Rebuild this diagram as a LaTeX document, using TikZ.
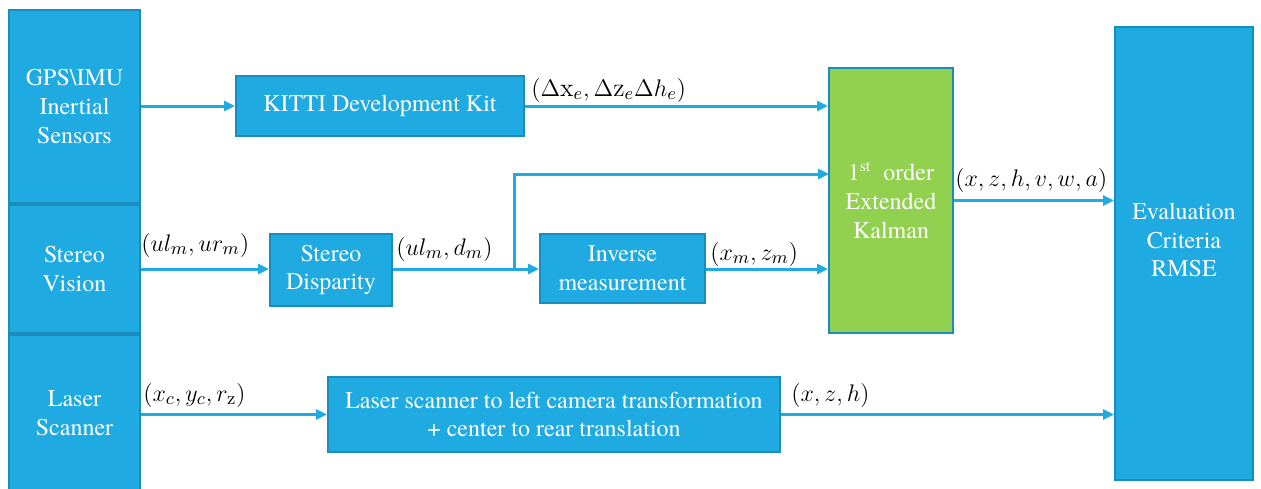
\documentclass[tikz,border=0pt]{standalone}
\usepackage{fontspec}
\IfFontExistsTF{texgyretermes-regular.otf}
  {\newfontfamily\tnrfont{texgyretermes-regular.otf}}
  {\newfontfamily\tnrfont{Liberation Serif}}
\usetikzlibrary{arrows.meta}
\definecolor{boxblue}{RGB}{31,171,226}
\definecolor{edgeblue}{RGB}{26,140,190}
\definecolor{kalgreen}{RGB}{146,208,80}
\tikzset{
  blk/.style={draw=edgeblue, line width=1pt, fill=boxblue, text=white, align=center,
    inner sep=1pt, font=\tnrfont\fontsize{12}{14.4}\selectfont},
  arr/.style={draw=boxblue, line width=1.5pt, -{Triangle[length=5.5pt,width=5pt]}},
  lbl/.style={anchor=west, inner sep=0.5pt, font=\fontsize{13}{15}\selectfont},
}
\begin{document}
\begin{tikzpicture}[x=0.5pt,y=-0.5pt]
        \useasboundingbox (0,0) rectangle (1261,488);

        % sensor column
        \node [blk, minimum width=65.5pt, minimum height=96.5pt] (gps) at (74.5,106.5) {GPS\textbackslash IMU\\Inertial\\Sensors};
        \node [blk, minimum width=65.5pt, minimum height=64pt] (stereo) at (74.5,269) {Stereo\\Vision};
        \node [blk, minimum width=65.5pt, minimum height=78pt] (laser) at (74.5,413) {Laser\\Scanner};

        % processing blocks
        \node [blk, minimum width=144pt, minimum height=30pt] (kitti) at (380,106) {KITTI Development Kit};
        \node [blk, minimum width=61pt, minimum height=36pt] (disp) at (331,270) {Stereo\\Disparity};
        \node [blk, minimum width=82.5pt, minimum height=34.5pt] (inv) at (622.5,268) {Inverse\\measurement};
        \node [blk, minimum width=226pt, minimum height=37.5pt] (lbox) at (554,414.5) {Laser scanner to left camera transformation\\+ center to rear translation};
        \node [blk, fill=kalgreen, minimum width=62pt, minimum height=132.5pt] (ekf) at (891,200.5) {1\textsuperscript{st}\ \ order\\Extended\\Kalman};

        % evaluation
        \node [blk, minimum width=69pt, minimum height=226.5pt] (eval) at (1184,253.5) {};
        \node [text=white, align=center, inner sep=1pt, font=\tnrfont\fontsize{12}{14.4}\selectfont] (evaltxt) at (1184,240) {Evaluation\\Criteria\\RMSE};

        % connectors
        \coordinate (br) at (514,269);
        \coordinate (k2) at (829,174);
        \draw [arr] (gps.east |- kitti.west) -- (kitti.west);
        \draw [arr] (kitti.east) -- (kitti.east -| ekf.west);
        \draw [arr] (stereo.east) -- (stereo.east -| disp.west);
        \draw [arr] (disp.east |- br) -- (br -| inv.west);
        \draw [arr] (br) |- (k2);
        \draw [arr] (inv.east |- br) -- (br -| ekf.west);
        \draw [arr] (ekf.east) -- (ekf.east -| eval.west);
        \draw [arr] (laser.east |- lbox.west) -- (lbox.west);
        \draw [arr] (lbox.east) -- (lbox.east -| eval.west);

        % labels
        \node [lbl] (lkitti) at (530,90) {$(\Delta\mathrm{x}_e,\Delta\mathrm{z}_e\Delta h_e)$};
        \node [lbl] (lstereo) at (140,245) {$(ul_m,ur_m)$};
        \node [lbl] (ldisp) at (395,249) {$(ul_m,d_m)$};
        \node [lbl] (linv) at (709,254) {$(x_m,z_m)$};
        \node [lbl] (lekf) at (954,180) {$(x,z,h,v,w,a)$};
        \node [lbl] (llaser) at (142,395) {$(x_c,y_c,r_\mathrm{z})$};
        \node [lbl] (lbox2) at (790,395) {$(x,z,h)$};
\end{tikzpicture}
\end{document}
